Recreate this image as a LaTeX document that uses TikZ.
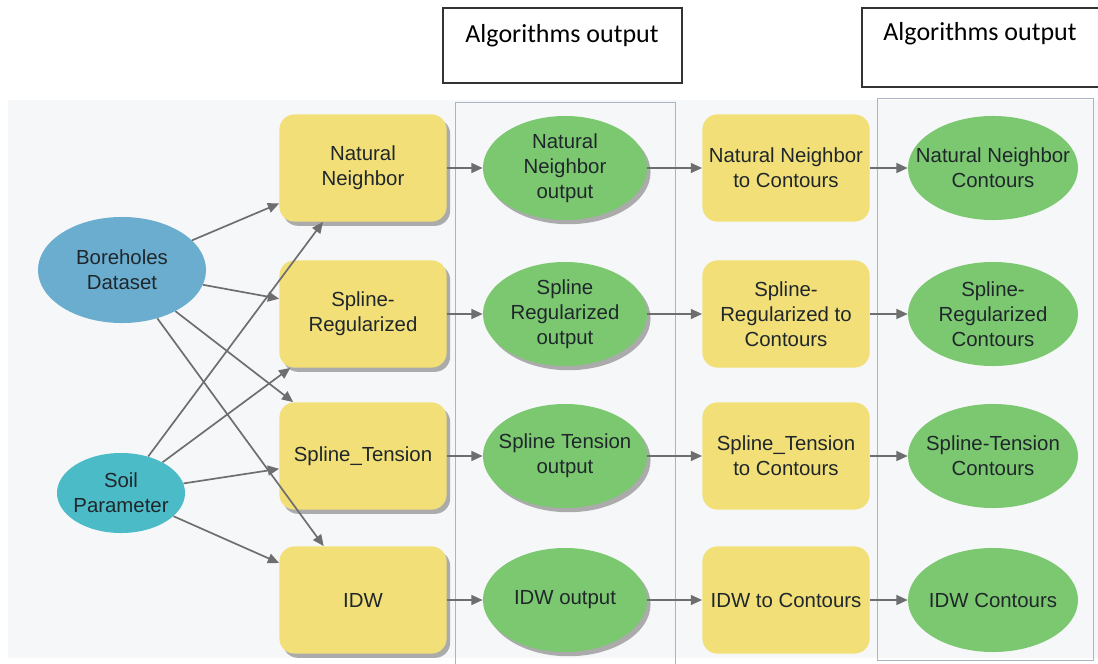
\documentclass[tikz,border=0pt]{standalone}
\usepackage{fontspec}
\setmainfont{Liberation Sans}
\newfontfamily\titlefont{Carlito}
\usepackage{tikz}
\usetikzlibrary{arrows.meta,shapes.geometric,shadows}
\definecolor{panel}{HTML}{F6F7F8}
\definecolor{frame}{HTML}{A9B5C2}
\definecolor{ink}{HTML}{1F272B}
\definecolor{toolyel}{HTML}{F2DF78}
\definecolor{outgreen}{HTML}{7CC870}
\definecolor{boreblue}{HTML}{6AADCF}
\definecolor{soilcyan}{HTML}{4BBBC8}
\definecolor{wire}{HTML}{6E6E6E}
\tikzset{
  tool/.style={rectangle,rounded corners=.38cm,fill=toolyel,draw=none,
    minimum width=4.18cm,minimum height=2.68cm,align=center,text=ink,
    font=\fontsize{14.5}{17.8}\selectfont},
  result/.style={ellipse,fill=outgreen,draw=none,inner xsep=-18pt,inner ysep=-3pt,
    minimum width=4.1cm,minimum height=2.6cm,align=center,text=ink,
    font=\fontsize{14.5}{17.8}\selectfont},
  source/.style={ellipse,draw=none,inner xsep=-10pt,inner ysep=-2pt,align=center,text=ink,
    font=\fontsize{14.5}{17.8}\selectfont},
  shade/.style={drop shadow={shadow xshift=2.5pt,shadow yshift=-3pt,fill=black!45,opacity=.7}},
  flow/.style={-{Triangle[length=8pt,width=7pt]},draw=wire,line width=1.2pt},
  column/.style={draw=frame,line width=.6pt},
  titlebox/.style={draw=black!80,line width=.9pt},
  titletext/.style={font=\titlefont\fontsize{18.5}{22}\selectfont,text=black}
}
\begin{document}
\begin{tikzpicture}[x=.025cm,y=-.025cm]
  \useasboundingbox (0,0) rectangle (1098,664);
  \fill[white] (0,0) rectangle (1098,664);
  \fill[panel] (8,100) rectangle (1098,658);
  \draw[column] (455,102) rectangle (675,664);
  \draw[column] (877,98) rectangle (1093,660);
  \draw[titlebox] (443,8) rectangle (682,83);
  \node[titletext] (ttlA) at (562,36) {Algorithms output};
  \draw[titlebox] (862,8) rectangle (1110,87);
  \node[titletext] (ttlB) at (980,34) {Algorithms output};
  % inputs
  \node[source,fill=boreblue,minimum width=4.2cm,minimum height=2.65cm] (bore) at (122,270) {Boreholes\\Dataset};
  \node[source,fill=soilcyan,minimum width=3.2cm,minimum height=2cm] (soil) at (121,493) {Soil\\Parameter};
  % interpolation tools
  \node[tool,shade] (nn) at (363,168) {Natural\\Neighbor};
  \node[tool,shade] (sr) at (363,314) {Spline-\\Regularized};
  \node[tool,shade] (st) at (363,456) {Spline\_Tension};
  \node[tool,shade] (idw) at (363,600) {IDW};
  % rasters
  \node[result,shade] (nnout) at (565,168) {Natural\\Neighbor\\output};
  \node[result,shade] (srout) at (565,314) {Spline\\Regularized\\output};
  \node[result,shade] (stout) at (565,456) {Spline Tension\\output};
  \node[result,shade] (idwout) at (565,600) {IDW output};
  % contour tools
  \node[tool] (nnc) at (786,168) {Natural Neighbor\\to Contours};
  \node[tool] (src) at (786,314) {Spline-\\Regularized to\\Contours};
  \node[tool] (stc) at (786,456) {Spline\_Tension\\to Contours};
  \node[tool] (idwc) at (786,600) {IDW to Contours};
  % contours
  \node[result,minimum width=4.25cm] (nnline) at (993,168) {Natural Neighbor\\Contours};
  \node[result,minimum width=4.25cm] (srline) at (993,314) {Spline-\\Regularized\\Contours};
  \node[result,minimum width=4.25cm] (stline) at (993,456) {Spline-Tension\\Contours};
  \node[result,minimum width=4.25cm] (idwline) at (993,600) {IDW Contours};
  \foreach \t in {nn,sr,st,idw}{
    \draw[flow] (bore) -- (\t);
    \draw[flow] (soil) -- (\t);
    \draw[flow] (\t) -- (\t out);
    \draw[flow] (\t out) -- (\t c);
    \draw[flow] (\t c) -- (\t line);
  }
\end{tikzpicture}
\end{document}
